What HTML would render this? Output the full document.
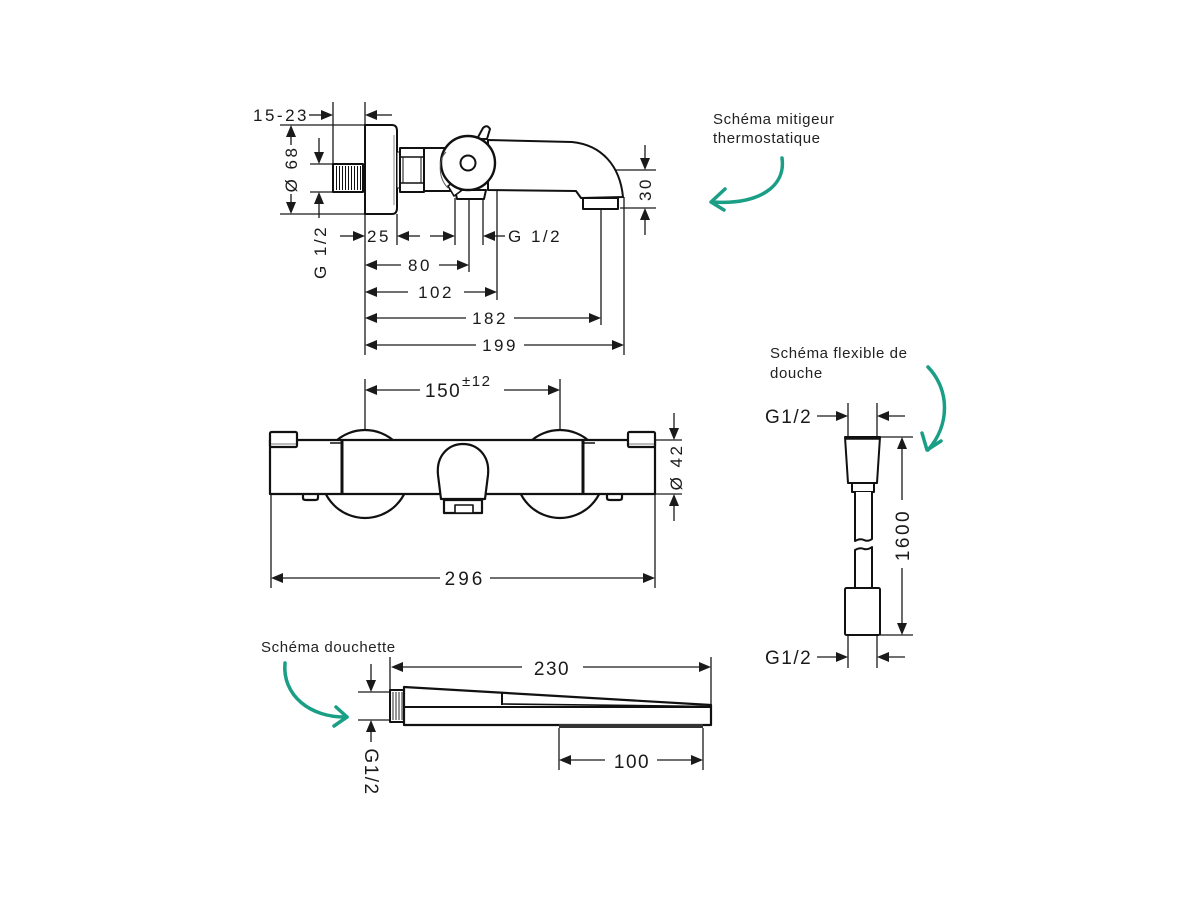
<!DOCTYPE html>
<html>
<head>
<meta charset="utf-8">
<style>
  html,body{margin:0;padding:0;background:#fff;}
  svg{display:block;}
  .dim{font-family:"Liberation Sans",sans-serif;fill:#1a1a1a;}
  .lbl{font-family:"Liberation Sans",sans-serif;fill:#222;font-size:15px;letter-spacing:0.6px;}
</style>
</head>
<body>
<svg width="1200" height="900" viewBox="0 0 1200 900" xmlns="http://www.w3.org/2000/svg">
<rect width="1200" height="900" fill="#fff"/>

<!-- ============ DRAWING 1 : thermostatic mixer side view ============ -->
<g stroke="#1a1a1a" stroke-width="1.3" fill="none">
  <!-- extension lines -->
  <line x1="333" y1="102" x2="333" y2="164"/>
  <line x1="365" y1="102" x2="365" y2="355"/>
  <line x1="280" y1="125" x2="365" y2="125"/>
  <line x1="280" y1="214" x2="365" y2="214"/>
  <line x1="310" y1="164" x2="333" y2="164"/>
  <line x1="310" y1="192" x2="333" y2="192"/>
  <line x1="397" y1="214" x2="397" y2="245"/>
  <line x1="455" y1="198" x2="455" y2="245"/>
  <line x1="469" y1="198" x2="469" y2="272"/>
  <line x1="483" y1="198" x2="483" y2="245"/>
  <line x1="497" y1="140" x2="497" y2="300"/>
  <line x1="601" y1="210" x2="601" y2="325"/>
  <line x1="624" y1="197" x2="624" y2="355"/>
  <line x1="612" y1="170" x2="656" y2="170"/>
  <line x1="620" y1="208" x2="656" y2="208"/>
  <!-- 15-23 -->
  <line x1="309" y1="115" x2="322" y2="115"/>
  <line x1="376" y1="115" x2="392" y2="115"/>
  <!-- Ø68 -->
  <line x1="291" y1="136" x2="291" y2="145"/>
  <line x1="291" y1="194" x2="291" y2="203"/>
  <!-- G1/2 nipple -->
  <line x1="319" y1="138" x2="319" y2="153"/>
  <line x1="319" y1="203" x2="319" y2="218"/>
  <!-- row 25 -->
  <line x1="340" y1="236" x2="354" y2="236"/>
  <line x1="408" y1="236" x2="420" y2="236"/>
  <line x1="430" y1="236" x2="444" y2="236"/>
  <line x1="494" y1="236" x2="505" y2="236"/>
  <!-- row 80 -->
  <line x1="376" y1="265" x2="401" y2="265"/>
  <line x1="439" y1="265" x2="458" y2="265"/>
  <!-- row 102 -->
  <line x1="376" y1="292" x2="408" y2="292"/>
  <line x1="464" y1="292" x2="486" y2="292"/>
  <!-- row 182 -->
  <line x1="376" y1="318" x2="466" y2="318"/>
  <line x1="514" y1="318" x2="590" y2="318"/>
  <!-- row 199 -->
  <line x1="376" y1="345" x2="476" y2="345"/>
  <line x1="524" y1="345" x2="613" y2="345"/>
  <!-- 30 -->
  <line x1="645" y1="145" x2="645" y2="159"/>
  <line x1="645" y1="219" x2="645" y2="235"/>
</g>
<g fill="#1a1a1a">
  <polygon points="321,110 333,115 321,120"/>
  <polygon points="377,110 365,115 377,120"/>
  <polygon points="286,137 291,125 296,137"/>
  <polygon points="286,202 291,214 296,202"/>
  <polygon points="314,152 319,164 324,152"/>
  <polygon points="314,204 319,192 324,204"/>
  <polygon points="353,231 365,236 353,241"/>
  <polygon points="409,231 397,236 409,241"/>
  <polygon points="443,231 455,236 443,241"/>
  <polygon points="495,231 483,236 495,241"/>
  <polygon points="377,260 365,265 377,270"/>
  <polygon points="457,260 469,265 457,270"/>
  <polygon points="377,287 365,292 377,297"/>
  <polygon points="485,287 497,292 485,297"/>
  <polygon points="377,313 365,318 377,323"/>
  <polygon points="589,313 601,318 589,323"/>
  <polygon points="377,340 365,345 377,350"/>
  <polygon points="612,340 624,345 612,350"/>
  <polygon points="640,158 645,170 650,158"/>
  <polygon points="640,220 645,208 650,220"/>
</g>
<g class="dim" font-size="17" letter-spacing="2.5">
  <text x="253" y="121">15-23</text>
  <text x="367" y="242">25</text>
  <text x="508" y="242">G 1/2</text>
  <text x="420" y="271" text-anchor="middle">80</text>
  <text x="436" y="298" text-anchor="middle">102</text>
  <text x="490" y="324" text-anchor="middle">182</text>
  <text x="500" y="351" text-anchor="middle">199</text>
  <text transform="translate(297,169) rotate(-90)" text-anchor="middle">Ø 68</text>
  <text transform="translate(326,252) rotate(-90)" text-anchor="middle">G 1/2</text>
  <text transform="translate(651,189) rotate(-90)" text-anchor="middle">30</text>
</g>
<!-- body shapes -->
<g stroke="#111" stroke-width="2" fill="#fff" stroke-linejoin="round">
  <!-- threaded nipple -->
  <rect x="333" y="164" width="30" height="28"/>
  <!-- escutcheon -->
  <path d="M365,125 H392 Q397,125 397,131 V208 Q397,214 392,214 H365 Z"/>
  <rect x="397" y="152" width="3" height="36" stroke-width="1"/>
  <!-- nut -->
  <rect x="400" y="148" width="24" height="44"/>
  <!-- body block -->
  <rect x="424" y="148" width="26" height="43"/>
  <!-- spout -->
  <path d="M488,140 L572,142 C602,145 620,166 623,197 L581,198 L576,191 L488,190 Z"/>
  <rect x="583" y="198" width="35" height="11"/>
  <!-- knob foot -->
  <path d="M455,190 L457,199 L484,199 L486,190 Z"/>
  <!-- small piece lower-left of knob -->
  <path d="M448,186 L455,181 L461,191 L454,196 Z" stroke-width="1.6"/>
  <!-- tab -->
  <path d="M477,139 L483,128 Q487,124 490,129 L487,139 Z"/>
  <!-- knob -->
  <circle cx="468" cy="163" r="27" stroke-width="2.4"/>
  <circle cx="468" cy="163" r="7.5"/>
</g>
<g stroke="#111" stroke-width="1" fill="none">
  <line x1="336.5" y1="166" x2="336.5" y2="190"/>
  <line x1="339.5" y1="166" x2="339.5" y2="190"/>
  <line x1="342.5" y1="166" x2="342.5" y2="190"/>
  <line x1="345.5" y1="166" x2="345.5" y2="190"/>
  <line x1="348.5" y1="166" x2="348.5" y2="190"/>
  <line x1="351.5" y1="166" x2="351.5" y2="190"/>
  <line x1="354.5" y1="166" x2="354.5" y2="190"/>
  <line x1="357.5" y1="166" x2="357.5" y2="190"/>
  <line x1="360.5" y1="166" x2="360.5" y2="190"/>
  <line x1="394" y1="135" x2="394" y2="205" stroke="#888"/>
  <line x1="400" y1="157" x2="424" y2="157" stroke-width="1.5"/>
  <line x1="400" y1="183" x2="424" y2="183" stroke-width="1.5"/>
  <line x1="403" y1="157" x2="403" y2="183"/>
  <line x1="421" y1="157" x2="421" y2="183"/>
  <path d="M446,152 C438,160 438,178 448,188" stroke="#555"/>
</g>

<!-- ============ DRAWING 2 : mixer front view ============ -->
<g stroke="#1a1a1a" stroke-width="1.3" fill="none">
  <line x1="365" y1="379" x2="365" y2="431"/>
  <line x1="560" y1="379" x2="560" y2="431"/>
  <line x1="376" y1="390" x2="420" y2="390"/>
  <line x1="504" y1="390" x2="549" y2="390"/>
  <line x1="655" y1="440" x2="682" y2="440"/>
  <line x1="655" y1="494" x2="682" y2="494"/>
  <line x1="674" y1="413" x2="674" y2="429"/>
  <line x1="674" y1="505" x2="674" y2="521"/>
  <line x1="271" y1="494" x2="271" y2="588"/>
  <line x1="655" y1="494" x2="655" y2="588"/>
  <line x1="282" y1="578" x2="440" y2="578"/>
  <line x1="490" y1="578" x2="644" y2="578"/>
</g>
<g fill="#1a1a1a">
  <polygon points="377,385 365,390 377,395"/>
  <polygon points="548,385 560,390 548,395"/>
  <polygon points="669,428 674,440 679,428"/>
  <polygon points="669,506 674,494 679,506"/>
  <polygon points="283,573 271,578 283,583"/>
  <polygon points="643,573 655,578 643,583"/>
</g>
<g class="dim">
  <text x="425" y="397" font-size="19" letter-spacing="1.5">150</text>
  <text x="462" y="386" font-size="15" letter-spacing="1.5">±12</text>
  <text x="465" y="585" font-size="19" letter-spacing="3" text-anchor="middle">296</text>
  <text transform="translate(682,467) rotate(-90)" font-size="17" letter-spacing="2.5" text-anchor="middle">Ø 42</text>
</g>
<g stroke="#111" stroke-width="2.2" fill="#fff" stroke-linejoin="round">
  <circle cx="365" cy="474" r="44"/>
  <circle cx="560" cy="474" r="44"/>
  <!-- feet -->
  <path d="M303,494 V498 Q303,500 306,500 H315 Q318,500 318,498 V494"/>
  <path d="M607,494 V498 Q607,500 610,500 H619 Q622,500 622,498 V494"/>
  <!-- main bar -->
  <rect x="270" y="440" width="385" height="54"/>
  <!-- end caps -->
  <rect x="270" y="432" width="27" height="15" rx="1.5"/>
  <rect x="628" y="432" width="27" height="15" rx="1.5"/>
  <!-- spout -->
  <path d="M441,499 L438,475 C436,455 449,444 463,444 C477,444 490,455 488,475 L485,499 Z"/>
  <rect x="444" y="500" width="38" height="13"/>
  <rect x="455" y="505" width="18" height="8" stroke-width="1.6"/>
</g>
<g stroke="#111" fill="none">
  <line x1="342" y1="440" x2="342" y2="494" stroke-width="3"/>
  <line x1="583" y1="440" x2="583" y2="494" stroke-width="3"/>
  <line x1="330" y1="443" x2="342" y2="443" stroke-width="1.5"/>
  <line x1="583" y1="443" x2="595" y2="443" stroke-width="1.5"/>
  <line x1="271" y1="444" x2="296" y2="444" stroke-width="1" stroke="#777"/>
  <line x1="629" y1="444" x2="654" y2="444" stroke-width="1" stroke="#777"/>
  <line x1="441" y1="499" x2="485" y2="499" stroke-width="1.5"/>
</g>

<!-- ============ DRAWING 3 : shower hose ============ -->
<g stroke="#1a1a1a" stroke-width="1.3" fill="none">
  <line x1="848" y1="403" x2="848" y2="437"/>
  <line x1="877" y1="403" x2="877" y2="437"/>
  <line x1="817" y1="416" x2="837" y2="416"/>
  <line x1="888" y1="416" x2="905" y2="416"/>
  <line x1="848" y1="635" x2="848" y2="668"/>
  <line x1="877" y1="635" x2="877" y2="668"/>
  <line x1="817" y1="657" x2="837" y2="657"/>
  <line x1="888" y1="657" x2="905" y2="657"/>
  <line x1="880" y1="437" x2="913" y2="437"/>
  <line x1="880" y1="635" x2="913" y2="635"/>
  <line x1="902" y1="448" x2="902" y2="500"/>
  <line x1="902" y1="568" x2="902" y2="624"/>
</g>
<g fill="#1a1a1a">
  <polygon points="836,411 848,416 836,421"/>
  <polygon points="889,411 877,416 889,421"/>
  <polygon points="836,652 848,657 836,662"/>
  <polygon points="889,652 877,657 889,662"/>
  <polygon points="897,449 902,437 907,449"/>
  <polygon points="897,623 902,635 907,623"/>
</g>
<g class="dim" font-size="19" letter-spacing="1.5">
  <text x="765" y="423">G1/2</text>
  <text x="765" y="664">G1/2</text>
  <text transform="translate(909,535) rotate(-90)" text-anchor="middle" letter-spacing="2.5">1600</text>
</g>
<g stroke="#111" stroke-width="2" fill="#fff" stroke-linejoin="round">
  <path d="M845,437 L880,437 L877,483 L848,483 Z"/>
  <rect x="852" y="483" width="22" height="9"/>
  <path d="M855,492 V541 Q860,538 864,540 Q868,542 872,539 V492" />
  <path d="M855,588 V550 Q860,547 864,549 Q868,550 872,547 V588" />
  <rect x="845" y="588" width="35" height="47" rx="1.5"/>
</g>
<line x1="845" y1="438" x2="880" y2="438" stroke="#111" stroke-width="3.5"/>

<!-- ============ DRAWING 4 : hand shower ============ -->
<g stroke="#1a1a1a" stroke-width="1.3" fill="none">
  <line x1="390" y1="657" x2="390" y2="690"/>
  <line x1="711" y1="657" x2="711" y2="705"/>
  <line x1="402" y1="667" x2="522" y2="667"/>
  <line x1="583" y1="667" x2="700" y2="667"/>
  <line x1="358" y1="692" x2="390" y2="692"/>
  <line x1="358" y1="720" x2="390" y2="720"/>
  <line x1="371" y1="664" x2="371" y2="681"/>
  <line x1="371" y1="731" x2="371" y2="742"/>
  <line x1="559" y1="728" x2="559" y2="770"/>
  <line x1="703" y1="728" x2="703" y2="770"/>
  <line x1="570" y1="760" x2="605" y2="760"/>
  <line x1="657" y1="760" x2="692" y2="760"/>
</g>
<g fill="#1a1a1a">
  <polygon points="403,662 391,667 403,672"/>
  <polygon points="699,662 711,667 699,672"/>
  <polygon points="366,680 371,692 376,680"/>
  <polygon points="366,732 371,720 376,732"/>
  <polygon points="571,755 559,760 571,765"/>
  <polygon points="691,755 703,760 691,765"/>
</g>
<g class="dim" font-size="19" letter-spacing="1.5">
  <text x="552" y="675" text-anchor="middle">230</text>
  <text x="632" y="768" text-anchor="middle">100</text>
  <text transform="translate(365,772) rotate(90)" text-anchor="middle">G1/2</text>
</g>
<g stroke="#111" stroke-width="2" fill="#fff" stroke-linejoin="round">
  <rect x="390" y="690" width="14" height="32"/>
  <path d="M404,687 L711,705 L711,725 L404,725 Z" stroke-width="2.2"/>
</g>
<g stroke="#111" fill="none">
  <line x1="393" y1="692" x2="393" y2="720" stroke-width="0.9"/>
  <line x1="396" y1="692" x2="396" y2="720" stroke-width="0.9"/>
  <line x1="399" y1="692" x2="399" y2="720" stroke-width="0.9"/>
  <line x1="402" y1="692" x2="402" y2="720" stroke-width="0.9"/>
  <line x1="404" y1="707" x2="711" y2="707" stroke-width="2"/>
  <line x1="502" y1="692.5" x2="502" y2="705" stroke-width="2"/>
  <line x1="502" y1="704" x2="711" y2="706.5" stroke-width="1.6"/>
</g>
<rect x="559" y="724" width="144" height="4" fill="#333"/>

<!-- ============ labels & green arrows ============ -->
<g class="lbl">
  <text x="713" y="124">Schéma mitigeur</text>
  <text x="713" y="143">thermostatique</text>
  <text x="770" y="358">Schéma flexible de</text>
  <text x="770" y="378">douche</text>
  <text x="261" y="652">Schéma douchette</text>
</g>
<g stroke="#1a9e85" stroke-width="3.5" fill="none" stroke-linecap="round" stroke-linejoin="round">
  <path d="M782,158 C786,186 760,205 712,202"/>
  <path d="M725,189 L711,202 L724,210"/>
  <path d="M928,367 C950,390 950,425 928,450"/>
  <path d="M922,433 L927,450 L941,441"/>
  <path d="M285,663 C282,695 310,718 347,717"/>
  <path d="M336,707 L347,717 L334,726"/>
</g>
</svg>
</body>
</html>
